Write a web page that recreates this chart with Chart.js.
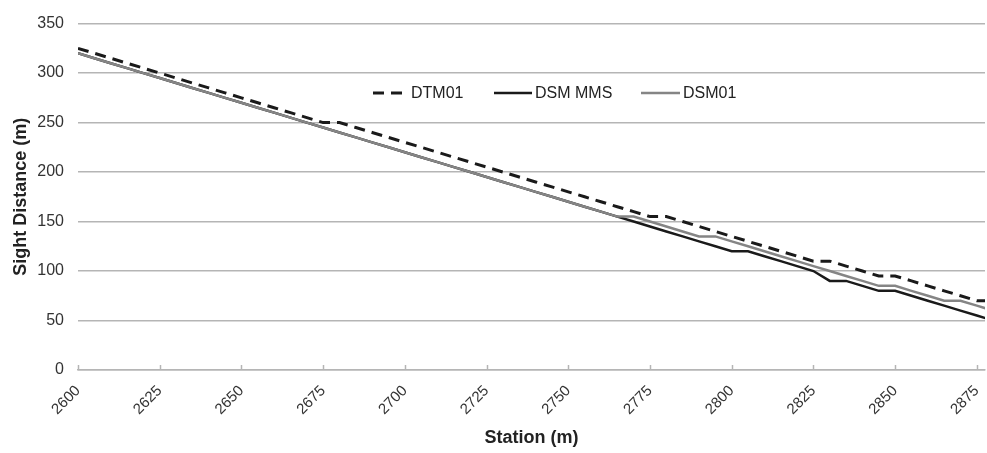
<!DOCTYPE html>
<html lang="en">
<head>
    <meta charset="UTF-8">
    <title>Sight Distance</title>
    <script src="https://cdn.jsdelivr.net/npm/chart.js"></script>
    <style>
        html, body { margin: 0; padding: 0; background: #fff; }
        #wrap { width: 987px; height: 453px; }
    </style>
</head>
<body>
<div id="wrap"><canvas id="chart"></canvas></div>
<script>
    // stations every 5 m, last point runs past the axis end and is clipped
    const stations = [2600, 2605, 2610, 2615, 2620, 2625, 2630, 2635, 2640, 2645,
        2650, 2655, 2660, 2665, 2670, 2675, 2680, 2685, 2690, 2695,
        2700, 2705, 2710, 2715, 2720, 2725, 2730, 2735, 2740, 2745,
        2750, 2755, 2760, 2765, 2770, 2775, 2780, 2785, 2790, 2795,
        2800, 2805, 2810, 2815, 2820, 2825, 2830, 2835, 2840, 2845,
        2850, 2855, 2860, 2865, 2870, 2875, 2880];
    const dtm01 = [325, 320, 315, 310, 305, 300, 295, 290, 285, 280,
        275, 270, 265, 260, 255, 250, 250, 245, 240, 235,
        230, 225, 220, 215, 210, 205, 200, 195, 190, 185,
        180, 175, 170, 165, 160, 155, 155, 150, 145, 140,
        135, 130, 125, 120, 115, 110, 110, 105, 100, 95,
        95, 90, 85, 80, 75, 70, 70];
    const dsmMms = [320, 315, 310, 305, 300, 295, 290, 285, 280, 275,
        270, 265, 260, 255, 250, 245, 240, 235, 230, 225,
        220, 215, 210, 205, 200, 195, 190, 185, 180, 175,
        170, 165, 160, 155, 150, 145, 140, 135, 130, 125,
        120, 120, 115, 110, 105, 100, 90, 90, 85, 80,
        80, 75, 70, 65, 60, 55, 50];
    const dsm01 = [320, 315, 310, 305, 300, 295, 290, 285, 280, 275,
        270, 265, 260, 255, 250, 245, 240, 235, 230, 225,
        220, 215, 210, 205, 200, 195, 190, 185, 180, 175,
        170, 165, 160, 155, 155, 150, 145, 140, 135, 135,
        130, 125, 120, 115, 110, 105, 100, 95, 90, 85,
        85, 80, 75, 70, 70, 65, 60];
    const xTicks = [2600, 2625, 2650, 2675, 2700, 2725, 2750, 2775, 2800, 2825, 2850, 2875];

    const FONT = '"Liberation Sans", Arial, sans-serif';
    const GRID = '#b5b5b5';
    const toPoints = arr => stations.map((s, i) => ({x: s, y: arr[i]}));

    // small tick marks pointing up from the x axis, and the legend inside the plot
    const extras = {
        id: 'extras',
        afterDraw(chart) {
            const ctx = chart.ctx;
            const xs = chart.scales.x;
            const base = chart.chartArea.bottom;
            ctx.save();
            ctx.strokeStyle = GRID;
            ctx.lineWidth = 1.5;
            xs.ticks.forEach(t => {
                const px = Math.round(xs.getPixelForValue(t.value)) + 0.5;
                ctx.beginPath();
                ctx.moveTo(px, base);
                ctx.lineTo(px, base - 5);
                ctx.stroke();
            });

            const y = 93;
            const items = [
                {ds: chart.data.datasets[0], x: 373, w: 35},
                {ds: chart.data.datasets[1], x: 494, w: 38},
                {ds: chart.data.datasets[2], x: 641, w: 39}
            ];
            ctx.font = '16px ' + FONT;
            ctx.textBaseline = 'middle';
            items.forEach(it => {
                ctx.strokeStyle = it.ds.borderColor;
                ctx.lineWidth = it.ds.borderWidth;
                ctx.setLineDash(it.ds.borderDash || []);
                ctx.beginPath();
                ctx.moveTo(it.x, y);
                ctx.lineTo(it.x + it.w, y);
                ctx.stroke();
                ctx.setLineDash([]);
                ctx.fillStyle = '#222';
                ctx.fillText(it.ds.label, it.x + it.w + 3, y + 1);
            });
            ctx.restore();
        }
    };

    const config = {
        type: 'line',
        data: {
            datasets: [
                {
                    label: 'DTM01',
                    data: toPoints(dtm01),
                    borderColor: '#1a1a1a',
                    borderWidth: 3,
                    borderDash: [11, 7],
                    pointRadius: 0,
                    tension: 0,
                    order: 0
                },
                {
                    label: 'DSM MMS',
                    data: toPoints(dsmMms),
                    borderColor: '#1a1a1a',
                    borderWidth: 2.5,
                    pointRadius: 0,
                    tension: 0,
                    order: 2
                },
                {
                    label: 'DSM01',
                    data: toPoints(dsm01),
                    borderColor: '#858585',
                    borderWidth: 2.5,
                    pointRadius: 0,
                    tension: 0,
                    order: 1
                }
            ]
        },
        options: {
            responsive: true,
            maintainAspectRatio: false,
            animation: false,
            layout: {padding: {top: 14, right: 2, left: 0, bottom: 0}},
            plugins: {
                legend: {display: false},
                tooltip: {enabled: false}
            },
            scales: {
                x: {
                    type: 'linear',
                    min: 2600,
                    max: 2877.5,
                    afterBuildTicks: s => {
                        s.ticks = xTicks.map(v => ({value: v}));
                    },
                    afterFit: s => {
                        s.height = 83;
                        s.paddingLeft = 0;
                        s.paddingRight = 0;
                    },
                    grid: {
                        drawOnChartArea: false,
                        drawTicks: false,
                        color: GRID,
                        lineWidth: 1.5
                    },
                    border: {display: true, color: GRID, width: 1.5},
                    ticks: {
                        autoSkip: false,
                        minRotation: 45,
                        maxRotation: 45,
                        padding: 12,
                        color: '#333',
                        callback: v => String(v),
                        font: {family: FONT, size: 15}
                    },
                    title: {
                        display: true,
                        text: 'Station (m)',
                        color: '#222',
                        padding: {top: 0, bottom: 4},
                        font: {family: FONT, size: 18, weight: 'bold'}
                    }
                },
                y: {
                    min: 0,
                    max: 350,
                    afterFit: s => { s.width = 78; },
                    grid: {
                        color: GRID,
                        lineWidth: 1.5,
                        drawTicks: false
                    },
                    border: {display: false},
                    ticks: {
                        stepSize: 50,
                        padding: 14,
                        color: '#333',
                        font: {family: FONT, size: 16}
                    },
                    title: {
                        display: true,
                        text: 'Sight Distance (m)',
                        color: '#222',
                        padding: {top: 10, bottom: 0},
                        font: {family: FONT, size: 18, weight: 'bold'}
                    }
                }
            }
        },
        plugins: [extras]
    };
    const chart = new Chart(document.getElementById('chart'), config);
</script>
</body>
</html>
